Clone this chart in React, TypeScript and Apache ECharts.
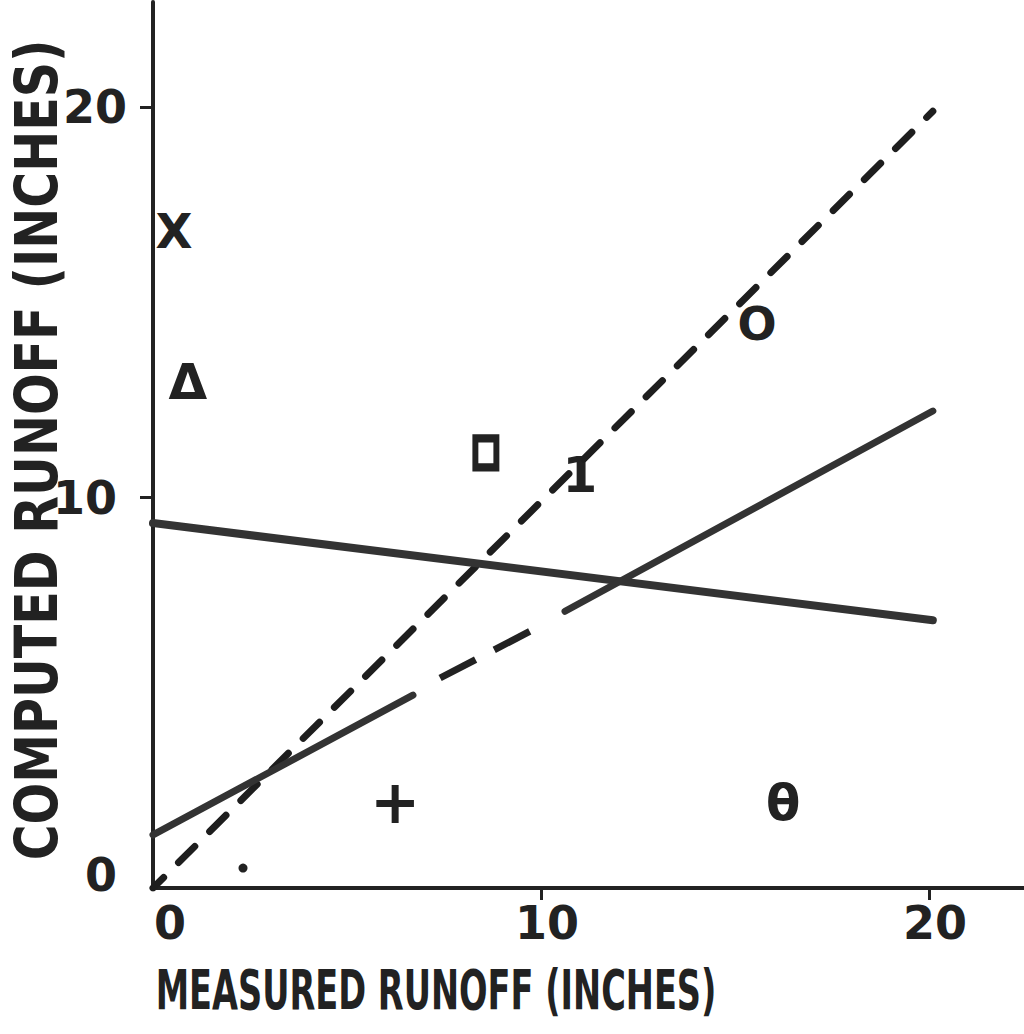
import React, { useEffect, useRef } from "react";
import * as echarts from "echarts";

// Tick values
const xTickValues = [0, 10, 20];
const yTickValues = [0, 10, 20];

// Lines
const identityLine = [[0, 0], [20.1, 19.9]];
const flatLine = [[0, 9.35], [20.1, 6.86]];
const riseLineA = [[0, 1.36], [6.7, 4.94]];
const riseLineB = [[7.4, 5.38], [9.72, 6.58]];
const riseLineC = [[10.62, 7.09], [20.1, 12.22]];

// Plotted points (glyph markers)
const markerGlyphs = ["X", "Δ", "1", "O", "+", "θ"];
const markerX = [0.54, 0.9, 11.0, 15.57, 6.24, 16.24];
const markerY = [16.84, 12.97, 10.58, 14.44, 2.2, 2.17];
const squareMarker = [[8.58, 11.15]];
const dotMarker = [[2.32, 0.51]];

const INK = "#222222";
const FONT = '"DejaVu Sans", "Liberation Sans", sans-serif';

export default function App() {
  const ref = useRef<HTMLDivElement>(null);

  useEffect(() => {
    if (!ref.current) return;
    const chart = echarts.init(ref.current, undefined, { renderer: "svg" });

    const glyphSize: Record<string, number> = { X: 48, "Δ": 50, "1": 50, O: 46, "+": 60, "θ": 50 };

    const glyphData = markerGlyphs.map((g, i) => ({
      value: [markerX[i], markerY[i]],
      name: g,
      label: { fontSize: glyphSize[g] },
    }));

    const tickRich = (extra: any) => ({
      fontSize: 46,
      fontFamily: FONT,
      fontWeight: "bold",
      color: INK,
      ...extra,
    });

    const option: any = {
      animation: false,
      backgroundColor: "#ffffff",
      grid: {
        left: 153,
        top: 2,
        width: 871,
        height: 886,
        containLabel: false,
        outerBoundsMode: "none",
      },
      xAxis: {
        type: "value",
        min: 0,
        max: 22.45,
        splitLine: { show: false },
        axisLine: { show: true, onZero: false, lineStyle: { color: INK, width: 4 } },
        axisTick: {
          show: true,
          inside: false,
          length: 12,
          customValues: [10, 20],
          lineStyle: { color: INK, width: 3 },
        },
        axisLabel: {
          show: true,
          customValues: xTickValues,
          margin: 12,
          color: INK,
          fontFamily: FONT,
          fontSize: 46,
          formatter: (v: number) => (v === 0 ? "{z|0}" : "{n|" + v + "}"),
          rich: {
            z: tickRich({ padding: [0, 0, 0, 34] }),
            n: tickRich({ padding: [0, 0, 0, 12] }),
          },
        },
      },
      yAxis: {
        type: "value",
        min: 0,
        max: 22.7,
        splitLine: { show: false },
        axisLine: { show: true, onZero: false, lineStyle: { color: INK, width: 4 } },
        axisTick: {
          show: true,
          inside: false,
          length: 13,
          customValues: [10, 20],
          lineStyle: { color: INK, width: 3 },
        },
        axisLabel: {
          show: true,
          customValues: yTickValues,
          margin: 26,
          color: INK,
          fontFamily: FONT,
          fontSize: 46,
          formatter: (v: number) => (v === 0 ? "{z|0}" : v === 10 ? "{t|10}" : "{n|20}"),
          rich: {
            z: tickRich({ padding: [0, 10, 26, 0] }),
            t: tickRich({ padding: [0, 10, 0, 0] }),
            n: tickRich({}),
          },
        },
      },
      graphic: [
        {
          type: "text",
          x: 436,
          y: 990,
          scaleX: 0.6,
          style: {
            text: "MEASURED RUNOFF (INCHES)",
            font: 'bold 56px "DejaVu Sans", sans-serif',
            fill: INK,
            align: "center",
            verticalAlign: "middle",
          },
        },
        {
          type: "text",
          x: 37,
          y: 450,
          rotation: Math.PI / 2,
          scaleX: 0.845,
          style: {
            text: "COMPUTED RUNOFF (INCHES)",
            font: 'bold 58px "DejaVu Sans", sans-serif',
            fill: INK,
            align: "center",
            verticalAlign: "middle",
          },
        },
      ],
      series: [
        {
          type: "line",
          data: identityLine,
          symbol: "none",
          lineStyle: { color: "#1e1e1e", width: 7, type: [23, 21], cap: "round", dashOffset: 8 },
        },
        {
          type: "line",
          data: flatLine,
          symbol: "none",
          lineStyle: { color: "#333333", width: 8, cap: "round" },
        },
        {
          type: "line",
          data: riseLineA,
          symbol: "none",
          lineStyle: { color: "#333333", width: 7, cap: "round" },
        },
        {
          type: "line",
          data: riseLineB,
          symbol: "none",
          lineStyle: { color: "#222222", width: 7, type: [40, 21], cap: "butt" },
        },
        {
          type: "line",
          data: riseLineC,
          symbol: "none",
          lineStyle: { color: "#333333", width: 7, cap: "round" },
        },
        {
          type: "scatter",
          data: glyphData,
          symbol: "circle",
          symbolSize: 1,
          itemStyle: { color: "rgba(0,0,0,0)", opacity: 1 },
          label: {
            show: true,
            position: "inside",
            formatter: (p: any) => p.name,
            color: INK,
            opacity: 1,
            fontFamily: FONT,
            fontWeight: "bold",
            fontSize: 46,
          },
        },
        {
          type: "scatter",
          data: squareMarker,
          symbol: "rect",
          symbolSize: [21, 29],
          itemStyle: { color: "rgba(0,0,0,0)", borderColor: INK, borderWidth: 7, opacity: 1 },
        },
        {
          type: "scatter",
          data: dotMarker,
          symbol: "circle",
          symbolSize: 9,
          itemStyle: { color: INK, opacity: 1 },
        },
      ],
    };

    chart.setOption(option);
    return () => chart.dispose();
  }, []);

  return (
    <div
      ref={ref}
      style={{ position: "fixed", left: 0, top: 0, width: 1024, height: 1034, background: "#fff" }}
    />
  );
}
